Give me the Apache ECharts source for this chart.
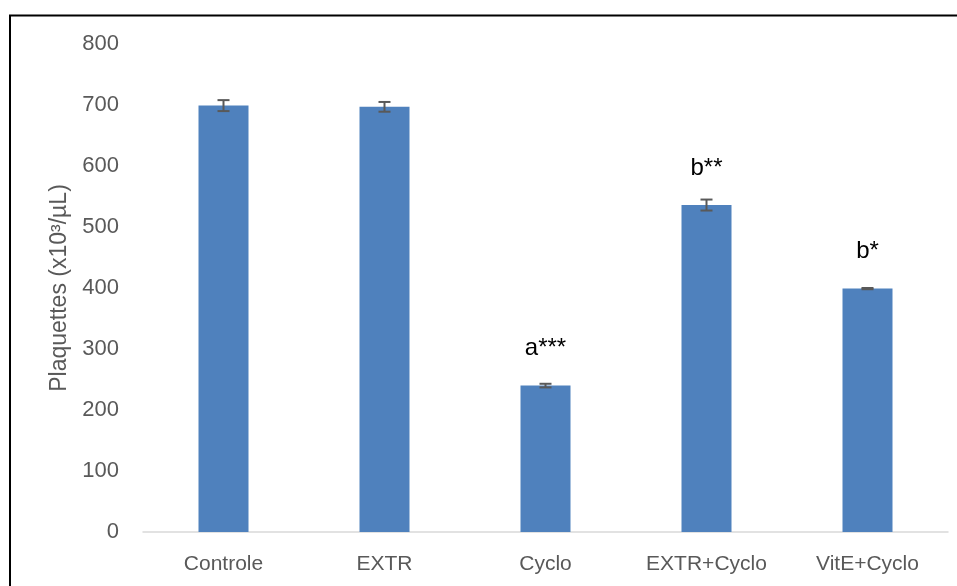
<!DOCTYPE html>
<html>
<head>
<meta charset="utf-8">
<script src="https://cdn.jsdelivr.net/npm/echarts@6/dist/echarts.min.js"></script>
<style>
  html, body { margin: 0; padding: 0; background: #fff; }
  #chart { width: 957px; height: 586px; }
</style>
</head>
<body>
<div id="chart"></div>
<script>
// Platelet counts per treatment group
const categories = ['Controle', 'EXTR', 'Cyclo', 'EXTR+Cyclo', 'VitE+Cyclo'];
const plateletMeans = [699, 697, 240, 536, 399];
const plateletErrors = [9, 8, 3, 9, 1];
const significance = ['', '', 'a***', 'b**', 'b*'];
const yTicks = { min: 0, max: 800, interval: 100 };

const FONT = 'Liberation Sans';
const TEXT_GREY = '#595959';

const chart = echarts.init(document.getElementById('chart'), null, { renderer: 'canvas' });

const barData = plateletMeans.map((v, i) => ({
  value: v,
  label: { show: significance[i] !== '', formatter: significance[i] }
}));

const errorData = plateletMeans.map((v, i) => [i, v - plateletErrors[i], v + plateletErrors[i]]);

chart.setOption({
  animation: false,
  backgroundColor: '#fff',
  graphic: [{
    type: 'rect',
    shape: { x: 10, y: 15.5, width: 1000, height: 620 },
    style: { fill: 'none', stroke: '#000', lineWidth: 2 },
    z: 100
  }],
  grid: { left: 143, right: 9, top: 44, bottom: 54 },
  xAxis: {
    type: 'category',
    data: categories,
    axisTick: { show: false },
    axisLine: { lineStyle: { color: '#d9d9d9', width: 1.5 } },
    axisLabel: { color: TEXT_GREY, fontFamily: FONT, fontSize: 21, margin: 22 }
  },
  yAxis: {
    type: 'value',
    min: yTicks.min, max: yTicks.max, interval: yTicks.interval,
    name: 'Plaquettes (x10³/µL)',
    nameLocation: 'middle',
    nameGap: 65,
    nameTextStyle: { color: TEXT_GREY, fontFamily: FONT, fontSize: 23 },
    axisLine: { show: false },
    axisTick: { show: false },
    splitLine: { show: false },
    axisLabel: { color: TEXT_GREY, fontFamily: FONT, fontSize: 22, margin: 24 }
  },
  series: [
    {
      type: 'bar',
      data: barData,
      barWidth: 50,
      itemStyle: { color: '#4F81BD' },
      label: {
        position: 'top',
        distance: 25,
        color: '#000',
        fontFamily: FONT,
        fontSize: 24
      }
    },
    {
      type: 'custom',
      data: errorData,
      z: 10,
      renderItem: function (params, api) {
        const x = api.value(0);
        const lo = api.coord([x, api.value(1)]);
        const hi = api.coord([x, api.value(2)]);
        const hw = 6;
        const style = { stroke: '#595959', lineWidth: 2 };
        return {
          type: 'group',
          children: [
            { type: 'line', shape: { x1: lo[0], y1: lo[1], x2: hi[0], y2: hi[1] }, style },
            { type: 'line', shape: { x1: lo[0] - hw, y1: lo[1], x2: lo[0] + hw, y2: lo[1] }, style },
            { type: 'line', shape: { x1: hi[0] - hw, y1: hi[1], x2: hi[0] + hw, y2: hi[1] }, style }
          ]
        };
      }
    }
  ]
});
</script>
</body>
</html>
